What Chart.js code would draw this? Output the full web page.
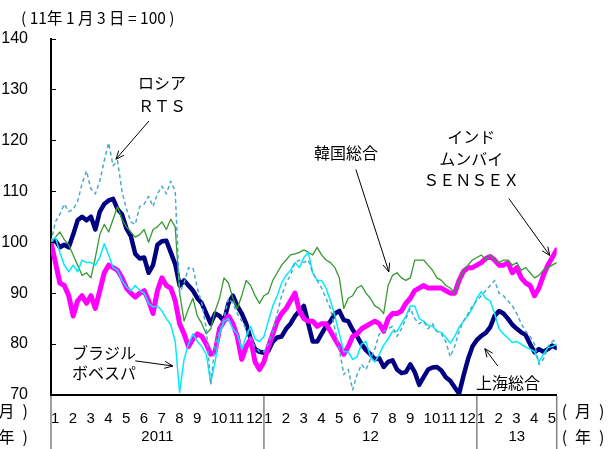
<!DOCTYPE html>
<html lang="ja">
<head>
<meta charset="utf-8">
<script src="https://cdn.jsdelivr.net/npm/chart.js@4.4.1/dist/chart.umd.min.js"></script>
<style>
  html, body { margin: 0; padding: 0; background: #fff; }
  #wrap { width: 610px; height: 449px; }
</style>
</head>
<body>
<div id="wrap"><canvas id="c" width="610" height="449"></canvas></div>
<script>
/* Emerging-market stock indices, 2011/1/3 = 100 (weekly readings) */

// x position of every reading, in months since Jan 2011
const xMonths = [
  0, 0.25, 0.5, 0.75, 1, 1.25, 1.5, 1.75, 2, 2.25, 2.5, 2.75,
  3, 3.25, 3.5, 3.75, 4, 4.25, 4.5, 4.75, 5, 5.25, 5.5, 5.75,
  6, 6.25, 6.5, 6.75, 7, 7.25, 7.5, 7.75, 8, 8.25, 8.5, 8.75,
  9, 9.25, 9.5, 9.75, 10, 10.25, 10.5, 10.75, 11, 11.25, 11.5, 11.75,
  12, 12.25, 12.5, 12.75, 13, 13.25, 13.5, 13.75, 14, 14.25, 14.5, 14.75,
  15, 15.25, 15.5, 15.75, 16, 16.25, 16.5, 16.75, 17, 17.25, 17.5, 17.75,
  18, 18.25, 18.5, 18.75, 19, 19.25, 19.5, 19.75, 20, 20.25, 20.5, 20.75,
  21, 21.25, 21.5, 21.75, 22, 22.25, 22.5, 22.75, 23, 23.25, 23.5, 23.75,
  24, 24.25, 24.5, 24.75, 25, 25.25, 25.5, 25.75, 26, 26.25, 26.5, 26.75,
  27, 27.25, 27.5, 27.75, 28, 28.25, 28.5
];

const russiaRTS = [
  100, 104, 105.5, 107.5, 106, 106.5, 108, 111.5, 114, 110.5, 109.5, 112,
  116, 119.5, 115, 116, 110, 106.5, 104, 103.5, 107, 107.5, 109, 107,
  109.5, 111, 109.5, 112, 110, 90, 92, 95, 95, 91, 88, 83,
  72, 80, 82.5, 85, 89, 88, 86, 84.5, 83, 81, 79.5, 78.5,
  78.5, 80, 82.5, 86, 89.5, 92, 93.5, 96, 96.5, 96, 96.5, 94,
  92.5, 91, 89, 87, 83, 79, 74, 75, 71, 74, 76, 75,
  77, 79, 82, 82.5, 83, 83.5, 81.5, 83, 85, 87, 85, 84,
  84.5, 83, 84, 82.5, 82, 80.5, 77.5, 79.5, 82.5, 84.5, 86, 87.5,
  88.5, 89.5, 90.5, 91.5, 92.5, 90, 89.5, 88.5, 87.5, 86, 84, 82.5,
  81.5, 80, 76, 77, 79.5, 80.5, 81
];

const koreaKOSPI = [
  100, 101, 102, 100.5, 99.5, 97.5, 95.5, 93.5, 94, 93, 97, 101.5,
  103.5, 102, 104.5, 107, 104.5, 103, 102, 101, 101.5, 102.5, 100, 102.5,
  103, 104, 102.5, 104.5, 103, 90, 84.5, 87, 89, 85.5, 84, 82,
  83, 86.5, 89, 93, 92, 89, 87, 89.5, 92.5, 91.5, 89.5, 88,
  89.5, 90, 92.5, 94, 95.5, 96.5, 97.5, 97.7, 98, 98.5, 98, 97.5,
  99, 97.5, 96.5, 96, 95, 93, 87, 89, 89.5, 91, 91.5, 90,
  89, 87.5, 87, 86, 91.5, 93.5, 94, 93, 92.5, 93, 96.5, 96.5,
  96.5, 95.5, 94.5, 93, 92.5, 91.5, 91, 90, 92.5, 94.5, 95.5, 96.5,
  97, 97.5, 96.5, 97.5, 96.5, 96, 96.5, 96.5, 95.5, 96, 94.5, 95,
  94, 93, 93.5, 94.5, 95, 95.5, 96
];

const indiaSENSEX = [
  100, 96, 92, 91.5, 89.5, 85.5, 88.5, 89.5, 88, 89.5, 87, 90.5,
  94, 95.5, 95, 94.5, 93, 91, 90, 89.2, 90, 90.5, 88.5, 86,
  90.5, 93, 91.5, 91, 88.5, 84, 82, 79.5, 81, 82, 81.5, 80,
  78, 78.5, 83, 84.5, 85.5, 84, 81.5, 77, 79.5, 81, 76.5, 75,
  76.5, 79.5, 82, 84.5, 86, 87, 88.5, 90, 86.5, 85, 84.5, 84.5,
  83.5, 84, 84, 82.5, 81, 79.5, 78, 79.5, 81.5, 82, 83, 83.5,
  84, 84.5, 84, 82.5, 85, 86, 86, 86.5, 88, 89, 90.5, 91,
  91.5, 91, 91, 91, 91, 90.5, 90, 90, 92.5, 94.3, 95, 95,
  95.5, 96, 96.8, 97.2, 96.5, 95.5, 95.5, 96, 94, 95, 93, 92,
  91.5, 89.5, 91, 93.5, 95.5, 97, 98.5
];

const shanghaiComp = [
  100, 100.3, 99, 99.5, 99, 101.5, 104.3, 105, 104.3, 105, 102.5, 106,
  107.5, 108.2, 108.5, 106.5, 105.5, 102.7, 101.2, 97.7, 96.8, 97, 94, 95.5,
  99.5, 100.2, 100.3, 98, 95.7, 91.5, 92.5, 91.5, 90.5, 89, 88, 86,
  84, 86, 85.5, 84.5, 88, 89.5, 87.5, 86, 84, 81, 79, 78.5,
  78.3, 78.7, 80.5, 81.3, 81.5, 83, 84, 85.5, 86.5, 87.5, 84, 80.5,
  80.5, 82, 83.5, 84.5, 86, 86.5, 84.7, 84.5, 82.8, 81.5, 80, 78.8,
  78, 77, 77.2, 75.5, 76.5, 76.8, 75, 74.3, 74.5, 76, 74.5, 72,
  73.5, 75, 75.4, 75.5, 74.8, 73.5, 72.8, 71.5, 70.3, 73.8, 77, 79.5,
  80.8, 81.6, 82.2, 83.3, 85.5, 86.5, 86, 85, 83.8, 83, 82.3, 81.8,
  80, 78.4, 79, 78.5, 79, 79.7, 79.2
];

const brazilBovespa = [
  100, 101, 98, 95.5, 94.2, 95.5, 94.2, 96.5, 96, 96, 95.5, 97,
  99.7, 97.5, 95, 94.5, 92.5, 91.2, 90.5, 91.5, 90.5, 90, 88, 87.3,
  87.5, 86.5, 85, 83.8, 80.5, 70.5, 77, 80, 82, 80.5, 79.5, 78,
  72.5, 76.5, 82, 84.5, 85, 83, 82, 79, 81.6, 83.5, 81, 80.5,
  81.5, 84.5, 87.5, 89.5, 92, 93.5, 94.5, 96, 95, 97, 98, 94,
  92.5, 92.5, 91, 88.5, 85.5, 82, 78.5, 78.5, 77, 77.5, 80, 80.5,
  77.5, 76.5, 78, 79.8, 81, 82.5, 82.5, 84, 85.5, 87.5, 87.5, 85,
  84.5, 83.7, 83.5, 82.5, 82.3, 81.3, 80.2, 81.5, 83.3, 84.5, 85.6, 87,
  89, 90.3, 89, 88.5, 86, 83, 82, 81.2, 80.3, 80.5, 80, 79.4,
  79, 78.5, 76.5, 78, 79.3, 79.5, 80
];

// axis labels
const yTicks = [70, 80, 90, 100, 110, 120, 130, 140];
const monthLabels = ['1','2','3','4','5','6','7','8','9','10','11','12',
                     '1','2','3','4','5','6','7','8','9','10','11','12',
                     '1','2','3','4','5'];
const yearLabels = ['2011', '12', '13'];
const yearBounds = [0, 12, 24, 28.5];

// callouts, anchored in data units (month, index level)
const notes = [
  { lines: ['ロシア', 'ＲＴＳ'], at: [6.25, 131.2], align: 'center', gap: 23, arrow: [5.52, 123.8, 3.66, 116.3] },
  { lines: ['韓国総合'], at: [16.62, 117.5], align: 'center', gap: 0, arrow: [17.18, 114.3, 19.04, 94.2] },
  { lines: ['インド', 'ムンバイ', 'ＳＥＮＳＥＸ'], at: [23.68, 120.6], align: 'center', gap: 21.5, arrow: [25.8, 108.6, 28.11, 97.4] },
  { lines: ['ブラジル', 'ボベスパ'], at: [1.18, 78.3], align: 'left', gap: 20, arrow: [4.75, 76.7, 6.87, 75.7] },
  { lines: ['上海総合'], at: [25.75, 72.4], align: 'center', gap: 0, arrow: [25.18, 75.7, 24.45, 79.1] }
];

const NUM_FONT = '"Liberation Sans", Arial, sans-serif';
const JP_FONT = '"Noto Sans CJK JP", "Noto Sans", sans-serif';

function pts(values) {
  return values.map((v, i) => ({ x: xMonths[i], y: v }));
}

function drawArrow(ctx, x1, y1, x2, y2) {
  const ang = Math.atan2(y2 - y1, x2 - x1);
  const len = 9, spread = 0.4;
  ctx.beginPath();
  ctx.moveTo(x1, y1);
  ctx.lineTo(x2, y2);
  ctx.moveTo(x2 - len * Math.cos(ang - spread), y2 - len * Math.sin(ang - spread));
  ctx.lineTo(x2, y2);
  ctx.lineTo(x2 - len * Math.cos(ang + spread), y2 - len * Math.sin(ang + spread));
  ctx.stroke();
}

const decor = {
  id: 'decor',
  afterDraw(chart) {
    const { ctx, chartArea: a, scales: { x, y } } = chart;
    ctx.save();

    // short tick marks inside the y axis
    ctx.strokeStyle = '#000';
    ctx.lineWidth = 1;
    yTicks.forEach(v => {
      const py = Math.round(y.getPixelForValue(v)) + 0.5;
      ctx.beginPath();
      ctx.moveTo(a.left, py);
      ctx.lineTo(a.left + 5, py);
      ctx.stroke();
    });

    // year separators under the axis
    ctx.strokeStyle = '#808080';
    ctx.lineWidth = 1.5;
    yearBounds.forEach(m => {
      const px = x.getPixelForValue(m);
      ctx.beginPath();
      ctx.moveTo(px, a.bottom + 1);
      ctx.lineTo(px, chart.height);
      ctx.stroke();
    });

    // year labels
    ctx.fillStyle = '#000';
    ctx.textBaseline = 'middle';
    ctx.textAlign = 'center';
    ctx.font = '15px ' + NUM_FONT;
    yearLabels.forEach((t, i) => {
      const px = (x.getPixelForValue(yearBounds[i]) + x.getPixelForValue(yearBounds[i + 1])) / 2;
      ctx.fillText(t, px, a.bottom + 42);
    });

    // unit labels
    ctx.font = '16px ' + JP_FONT;
    ctx.textAlign = 'right';
    ctx.fillText('(\u2002月\u2002)', a.left - 23, a.bottom + 16);
    ctx.fillText('(\u2002年\u2002)', a.left - 23, a.bottom + 42);
    ctx.textAlign = 'left';
    ctx.fillText('(\u2002月\u2002)', a.right + 5, a.bottom + 16);
    ctx.fillText('(\u2002年\u2002)', a.right + 5, a.bottom + 42);

    // caption
    ctx.font = '15.5px ' + JP_FONT;
    ctx.fillText('( 11年 1 月 3 日 = 100 )', a.left - 30, 18);

    // callouts
    ctx.strokeStyle = '#000';
    ctx.lineWidth = 1;
    ctx.font = '16px ' + JP_FONT;
    notes.forEach(n => {
      const px = x.getPixelForValue(n.at[0]);
      const py = y.getPixelForValue(n.at[1]);
      ctx.textAlign = n.align;
      n.lines.forEach((t, i) => ctx.fillText(t, px, py + i * n.gap));
      const [m1, v1, m2, v2] = n.arrow;
      drawArrow(ctx, x.getPixelForValue(m1), y.getPixelForValue(v1),
                x.getPixelForValue(m2), y.getPixelForValue(v2));
    });

    ctx.restore();
  }
};

const common = { pointRadius: 0, pointHoverRadius: 0, tension: 0, fill: false, borderJoinStyle: 'round', borderCapStyle: 'round' };

new Chart(document.getElementById('c'), {
  type: 'line',
  data: {
    datasets: [
      { label: 'ロシアRTS', data: pts(russiaRTS), borderColor: '#4aaacb', borderWidth: 1.5, borderDash: [4, 3], order: 1, ...common, borderCapStyle: 'butt' },
      { label: 'ブラジル ボベスパ', data: pts(brazilBovespa), borderColor: '#00ecf8', borderWidth: 1.5, order: 2, ...common },
      { label: '韓国総合', data: pts(koreaKOSPI), borderColor: '#359a30', borderWidth: 1.3, order: 3, ...common },
      { label: 'インド ムンバイSENSEX', data: pts(indiaSENSEX), borderColor: '#ff00ff', borderWidth: 5, order: 4, ...common },
      { label: '上海総合', data: pts(shanghaiComp), borderColor: '#000080', borderWidth: 4.5, order: 5, ...common }
    ]
  },
  options: {
    responsive: false,
    animation: false,
    events: [],
    layout: { padding: { left: 0, right: 53.3, top: 38.5, bottom: 0 } },
    plugins: { legend: { display: false }, tooltip: { enabled: false } },
    scales: {
      x: {
        type: 'linear',
        min: 0,
        max: 28.5,
        afterBuildTicks: s => { s.ticks = monthLabels.map((_, i) => ({ value: i })); },
        afterFit: s => { s.height = 54; },
        grid: { display: false },
        border: { display: true, color: '#000', width: 2 },
        ticks: {
          autoSkip: false,
          maxRotation: 0,
          align: 'start',
          padding: 7,
          color: '#000',
          font: { family: NUM_FONT, size: 15 },
          callback: (v, i) => monthLabels[i]
        }
      },
      y: {
        min: 70,
        max: 140,
        afterBuildTicks: s => { s.ticks = yTicks.map(v => ({ value: v })); },
        afterFit: s => { s.width = 51; },
        grid: { display: false },
        border: { display: true, color: '#000', width: 2 },
        ticks: {
          padding: 15,
          color: '#000',
          font: { family: NUM_FONT, size: 16 }
        }
      }
    }
  },
  plugins: [decor]
});
</script>
</body>
</html>
